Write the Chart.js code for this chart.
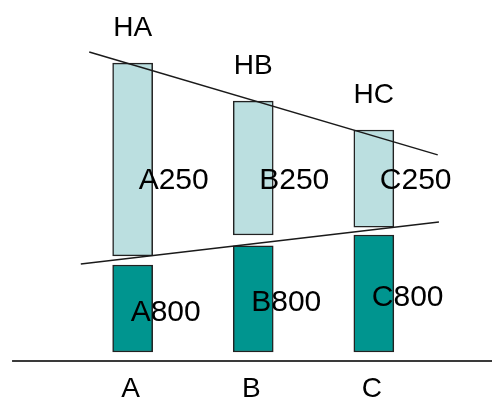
<!DOCTYPE html>
<html>
<head>
<meta charset="utf-8">
<script src="https://cdn.jsdelivr.net/npm/chart.js@4"></script>
<style>
    body { margin: 0; background: #fff; }
    .chart-box { width: 492px; height: 401px; }
</style>
</head>
<body>
<div class="chart-box"><canvas id="funnelChart"></canvas></div>
<script>
// Data Start
const categories = ["A", "B", "C"];
const xPos = [1, 2, 3];
const topLabels = ["HA", "HB", "HC"];
const lightLabels = ["A250", "B250", "C250"];
const darkLabels = ["A800", "B800", "C800"];

const darkLow = [2.5, 2.5, 2.5];
const darkHigh = [26.6, 31.9, 34.9];
const lightLow = [29.1, 34.9, 37.1];
const lightHigh = [82.5, 72.0, 64.0];

const upperLine = [{ x: 0.64, y: 85.6 }, { x: 3.53, y: 57.1 }];
const lowerLine = [{ x: 0.57, y: 26.9 }, { x: 3.54, y: 38.5 }];
// Data End

const fontFamily = '"Liberation Sans", Arial, sans-serif';

const labelPlugin = {
    id: 'labelPlugin',
    afterDatasetsDraw(chart) {
        const ctx = chart.ctx;
        const xScale = chart.scales.x;
        const yScale = chart.scales.y;
        const darkBars = chart.getDatasetMeta(0).data;
        const lightBars = chart.getDatasetMeta(1).data;
        const baseY = yScale.getPixelForValue(0);

        ctx.save();
        // baseline
        ctx.strokeStyle = '#3a3a3a';
        ctx.lineWidth = 2;
        ctx.beginPath();
        ctx.moveTo(xScale.getPixelForValue(0), baseY);
        ctx.lineTo(chart.chartArea.right, baseY);
        ctx.stroke();

        ctx.fillStyle = '#000';
        ctx.textBaseline = 'middle';
        categories.forEach((cat, i) => {
            const dark = darkBars[i];
            const light = lightBars[i];

            ctx.font = '28px ' + fontFamily;
            ctx.textAlign = 'center';
            ctx.fillText(topLabels[i], light.x, light.y - 35);
            ctx.fillText(cat, dark.x - 2, baseY + 28);

            ctx.font = '30px ' + fontFamily;
            ctx.textAlign = 'left';
            ctx.fillText(lightLabels[i], light.x + 6, yScale.getPixelForValue(50));
            ctx.fillText(darkLabels[i], dark.x - 2, (dark.y + dark.base) / 2 + 4);
        });
        ctx.restore();
    }
};

const ctx = document.getElementById('funnelChart').getContext('2d');

new Chart(ctx, {
    type: 'bar',
    data: {
        datasets: [{
            label: 'dark',
            data: xPos.map((x, i) => ({ x: x, y: [darkLow[i], darkHigh[i]] })),
            backgroundColor: '#00958f',
            borderColor: '#222',
            borderWidth: 1.5,
            borderSkipped: false,
            barThickness: 40,
            grouped: false,
            order: 1
        }, {
            label: 'light',
            data: xPos.map((x, i) => ({ x: x, y: [lightLow[i], lightHigh[i]] })),
            backgroundColor: '#bbdfe0',
            borderColor: '#222',
            borderWidth: 1.5,
            borderSkipped: false,
            barThickness: 40,
            grouped: false,
            order: 1
        }, {
            type: 'line',
            label: 'upper',
            data: upperLine,
            borderColor: '#1a1a1a',
            borderWidth: 1.5,
            pointRadius: 0,
            order: 0
        }, {
            type: 'line',
            label: 'lower',
            data: lowerLine,
            borderColor: '#1a1a1a',
            borderWidth: 1.5,
            pointRadius: 0,
            order: 0
        }]
    },
    options: {
        responsive: true,
        maintainAspectRatio: false,
        animation: false,
        layout: { padding: { top: 0, right: 0, bottom: 40, left: 0 } },
        scales: {
            x: { type: 'linear', min: -0.1, max: 3.98, offset: false, display: false },
            y: { min: 0, max: 100, display: false }
        },
        plugins: {
            legend: { display: false },
            tooltip: { enabled: false }
        }
    },
    plugins: [labelPlugin]
});
</script>
</body>
</html>
